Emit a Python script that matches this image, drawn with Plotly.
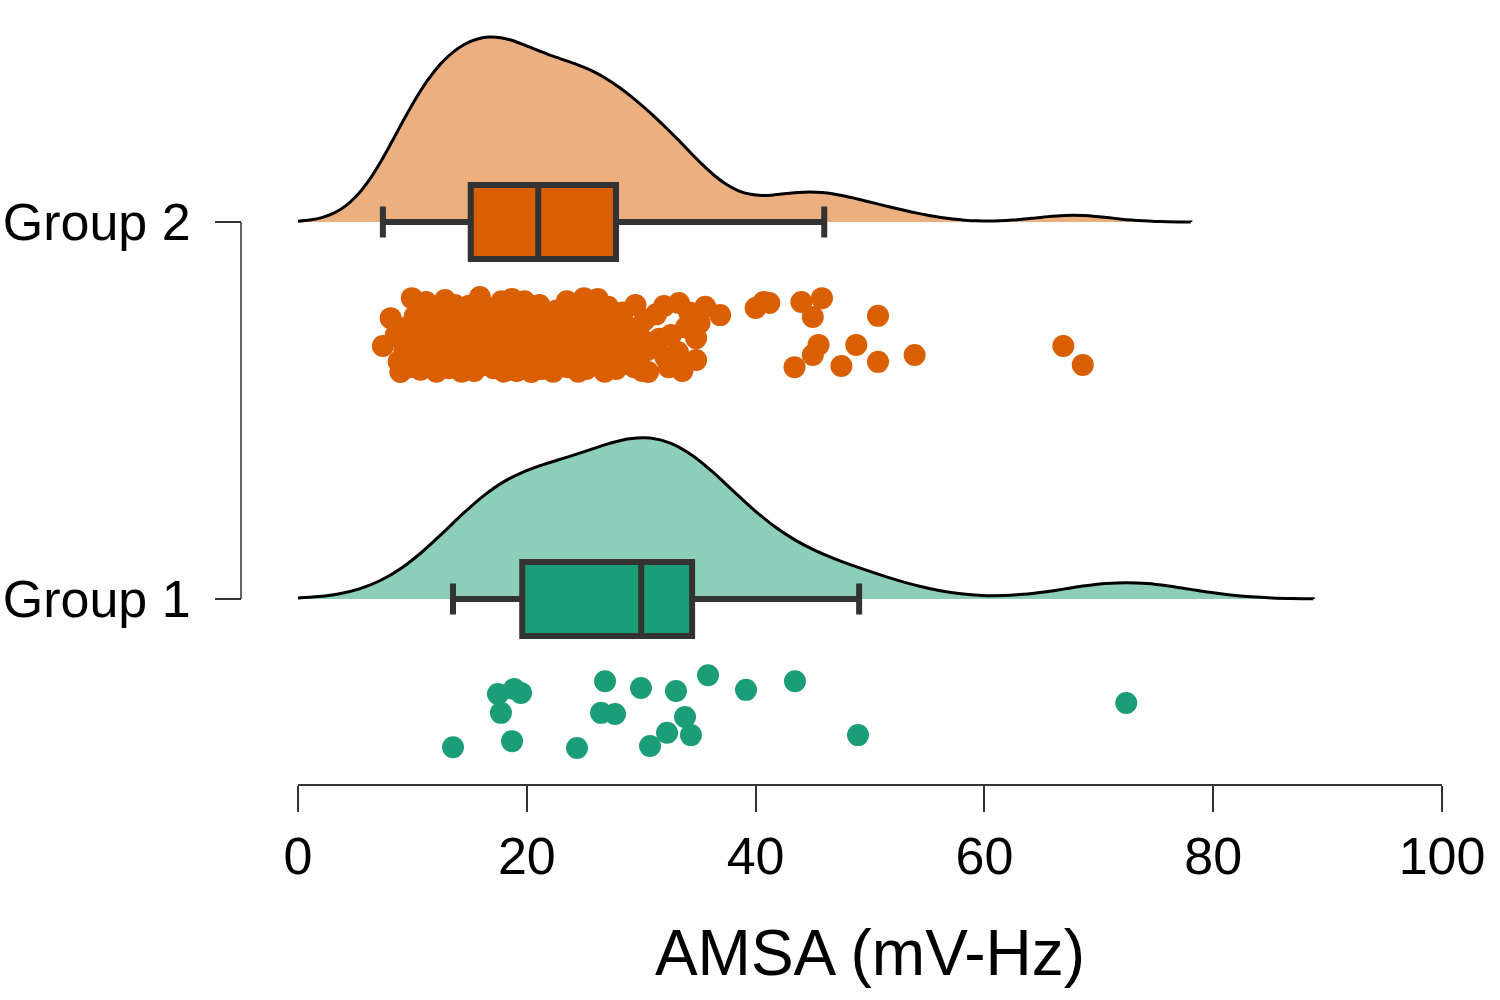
import plotly.graph_objects as go

# ---------------- data ----------------
group_labels = ["Group 1", "Group 2"]
group_pos = [1, 2]

# Group 1 (teal) AMSA values and their vertical jitter positions
g1_values = [13.55, 17.48, 18.88, 19.49, 17.74, 18.71, 24.39, 26.84, 26.49, 27.71,
             29.98, 30.77, 32.26, 33.04, 33.83, 34.35, 35.84, 39.16, 43.44, 48.95, 72.40]
g1_jitter = [0.607, 0.748, 0.761, 0.751, 0.698, 0.623, 0.605, 0.782, 0.698, 0.695,
             0.764, 0.610, 0.645, 0.756, 0.687, 0.639, 0.798, 0.759, 0.782, 0.639, 0.724]

# Group 2 (orange) AMSA values and their vertical jitter positions
g2_values = [
    7.42, 8.10, 8.55, 8.80, 8.95,
    9.95, 9.30, 9.50, 9.70, 10.0, 10.2, 10.4, 10.6, 10.7, 10.8, 10.9,
    11.2, 11.1, 11.3, 11.5, 11.7, 11.9, 12.1, 12.3, 12.5, 12.7, 12.85, 12.9,
    13.1, 13.2, 13.4, 13.5, 13.7, 13.8, 14.0, 14.2, 14.3, 14.5, 14.7, 14.8, 14.95,
    15.1, 15.2, 15.4, 15.5, 15.7, 15.9, 16.0, 16.1, 16.2, 16.4, 16.5, 16.7, 16.8, 16.95,
    17.1, 17.2, 17.3, 17.4, 17.5, 17.7, 17.8, 17.9, 18.0, 18.2, 18.3, 18.4, 18.5, 18.7, 18.8, 18.95,
    19.1, 19.2, 19.4, 19.6, 19.8, 19.9, 20.1, 20.3, 20.4, 20.6, 20.8, 20.9,
    21.1, 21.3, 21.5, 21.7, 21.9, 22.1, 22.3, 22.5, 22.6, 22.8, 22.95,
    23.1, 23.3, 23.5, 23.6, 23.8, 24.0, 24.1, 24.3, 24.5, 24.6, 24.8, 24.95,
    25.0, 25.2, 25.4, 25.5, 25.7, 25.9, 26.1, 26.2, 26.4, 26.6, 26.8, 26.9,
    27.1, 27.3, 27.5, 27.6, 27.8, 28.1, 28.4, 28.6, 28.8, 28.9,
    29.2, 29.4, 29.5, 29.8, 30.1, 30.3, 30.5, 30.6, 30.8,
    31.3, 31.6, 32.0, 32.1, 32.4, 32.6,
    33.2, 33.3, 33.6, 33.9, 34.2, 34.8, 34.8,
    35.1, 35.6, 36.9,
    40.0, 40.7, 41.2, 43.4, 44.0, 45.0, 45.0, 45.5, 45.8, 47.5, 48.8, 50.7, 50.7,
    53.9, 66.9, 68.6,
]
g2_jitter = [
    1.671, 1.745, 1.700, 1.630, 1.602,
    1.798, 1.660, 1.720, 1.615, 1.685, 1.750, 1.640, 1.705, 1.608, 1.768, 1.668,
    1.788, 1.720, 1.625, 1.690, 1.655, 1.742, 1.603, 1.710, 1.675, 1.760, 1.793, 1.640,
    1.700, 1.612, 1.735, 1.665, 1.780, 1.630, 1.720, 1.685, 1.603, 1.752, 1.650, 1.710, 1.778,
    1.640, 1.690, 1.605, 1.760, 1.725, 1.801, 1.660, 1.735, 1.620, 1.745, 1.695, 1.772, 1.640, 1.710,
    1.612, 1.755, 1.625, 1.680, 1.730, 1.650, 1.790, 1.700, 1.603, 1.700, 1.765, 1.660, 1.635, 1.796, 1.720, 1.665,
    1.605, 1.745, 1.690, 1.628, 1.790, 1.715, 1.655, 1.770, 1.602, 1.700, 1.735, 1.640,
    1.780, 1.610, 1.690, 1.750, 1.645, 1.720, 1.603, 1.675, 1.765, 1.630, 1.705,
    1.740, 1.660, 1.790, 1.615, 1.700, 1.760, 1.640, 1.725, 1.603, 1.680, 1.745, 1.650,
    1.798, 1.610, 1.700, 1.740, 1.620, 1.672, 1.760, 1.796, 1.640, 1.715, 1.603, 1.685,
    1.775, 1.650, 1.730, 1.665, 1.610, 1.695, 1.760, 1.625, 1.640, 1.720,
    1.660, 1.615, 1.780, 1.700, 1.605, 1.740, 1.660, 1.602, 1.680,
    1.755, 1.690, 1.777, 1.642, 1.615, 1.700,
    1.655, 1.785, 1.605, 1.720, 1.760, 1.692, 1.634,
    1.732, 1.775, 1.753,
    1.772, 1.788, 1.785, 1.615, 1.788, 1.748, 1.647, 1.674, 1.798, 1.618, 1.674, 1.751, 1.629,
    1.647, 1.671, 1.621,
]

# box-plot statistics: [Group 1, Group 2]
box_lower = [13.55, 7.42]
box_q1 = [19.6, 15.1]
box_median = [30.0, 21.0]
box_q3 = [34.45, 27.8]
box_upper = [49.05, 46.0]

# kernel bandwidths of the density clouds: [Group 1, Group 2]
kde_bw = [5.45, 3.15]

x_ticks = [0, 20, 40, 60, 80, 100]
x_title = "AMSA (mV-Hz)"

dark_fill = ["#1B9E77", "#D95F02"]
light_fill = ["rgba(27,158,119,0.5)", "rgba(217,95,2,0.5)"]
violin_width = [0.854, 0.981]

FONT = "Liberation Sans, Arial, sans-serif"
W, H = 1500, 1000

fig = go.Figure()

values = [g1_values, g2_values]
jitters = [g1_jitter, g2_jitter]

# clouds
for i in range(2):
    vals = values[i]
    fig.add_trace(go.Violin(
        x=vals, y0=group_pos[i], orientation="h", side="positive",
        width=violin_width[i], scalemode="width",
        bandwidth=kde_bw[i], spanmode="manual",
        span=[0, max(vals) + 3 * kde_bw[i]],
        points=False, box_visible=False, meanline_visible=False,
        fillcolor=light_fill[i], line=dict(color="black", width=3),
        showlegend=False, hoverinfo="skip",
    ))

# boxes
for i in range(2):
    fig.add_trace(go.Box(
        y=[group_pos[i]], orientation="h",
        q1=[box_q1[i]], median=[box_median[i]], q3=[box_q3[i]],
        lowerfence=[box_lower[i]], upperfence=[box_upper[i]],
        width=0.196, whiskerwidth=0.42, boxpoints=False,
        fillcolor=dark_fill[i], line=dict(color="#333333", width=6),
        showlegend=False, hoverinfo="skip",
    ))

# rain (points)
for i in range(2):
    fig.add_trace(go.Scatter(
        x=values[i], y=jitters[i], mode="markers",
        marker=dict(size=22, color=dark_fill[i], line=dict(width=0)),
        showlegend=False, hoverinfo="skip",
    ))

# y axis bracket line between the two group ticks
fig.add_shape(type="line", xref="paper", yref="y",
              x0=241 / W, x1=241 / W, y0=group_pos[0], y1=group_pos[1],
              line=dict(color="#333333", width=1.5))

fig.update_layout(
    width=W, height=H,
    margin=dict(l=0, r=0, t=0, b=0),
    paper_bgcolor="white", plot_bgcolor="white",
    font=dict(family=FONT, color="black"),
    violinmode="overlay", boxmode="overlay",
    xaxis=dict(
        domain=[298 / W, 1442 / W], range=[0, 100],
        tickvals=x_ticks, ticktext=[str(t) for t in x_ticks],
        ticks="outside", ticklen=26, tickwidth=1.5, tickcolor="#333333",
        showline=True, linecolor="#333333", linewidth=1.5,
        showgrid=False, zeroline=False, automargin=False,
        tickfont=dict(size=52, family=FONT, color="black"),
        title=dict(text=x_title, font=dict(size=64, family=FONT, color="black"),
                   standoff=46),
    ),
    yaxis=dict(
        domain=[0.216, 0.98], range=[0.5093, 2.5358],
        anchor="free", position=241 / W,
        tickvals=group_pos, ticktext=group_labels,
        ticks="outside", ticklen=26, tickwidth=1.5, tickcolor="#333333",
        ticklabelstandoff=14,
        showline=False, showgrid=False, zeroline=False, automargin=False,
        tickfont=dict(size=52, family=FONT, color="black"),
    ),
)

fig.write_html("out.html", config={"displayModeBar": False},
               post_script="document.body.style.margin='0px';")
